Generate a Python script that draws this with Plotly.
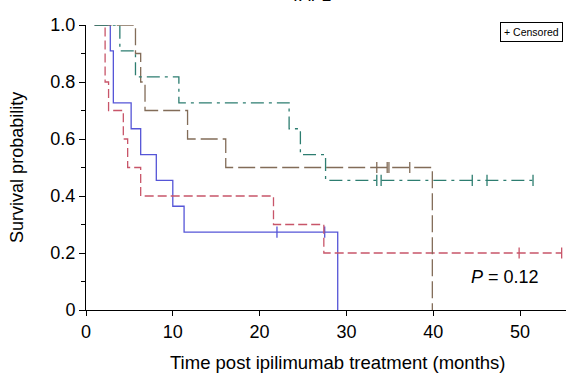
import plotly.graph_objects as go

# Kaplan-Meier step curves: time of each step (months) and survival after it
blue_t = [1.0, 2.8, 3.15, 5.2, 6.3, 8.1, 10.0, 11.3, 29.0]
blue_s = [1.0, 0.909, 0.727, 0.636, 0.545, 0.455, 0.364, 0.273, 0.0]
blue_cens_t = [22.0, 27.5]
blue_cens_s = [0.273, 0.273]

red_t = [1.0, 2.2, 2.6, 4.3, 4.8, 6.3, 21.6, 27.4, 54.8]
red_s = [1.0, 0.8, 0.7, 0.6, 0.5, 0.4, 0.3, 0.2, 0.2]
red_cens_t = [49.9, 54.8]
red_cens_s = [0.2, 0.2]

brown_t = [1.0, 5.7, 6.3, 6.8, 11.7, 16.1, 39.9]
brown_s = [1.0, 0.9, 0.8, 0.7, 0.6, 0.5, 0.0]
brown_cens_t = [33.5, 34.7, 34.9, 37.3]
brown_cens_s = [0.5, 0.5, 0.5, 0.5]

teal_t = [1.0, 3.9, 5.7, 10.7, 23.4, 24.7, 27.6, 51.5]
teal_s = [1.0, 0.909, 0.818, 0.727, 0.636, 0.545, 0.455, 0.455]
teal_cens_t = [33.5, 34.0, 44.5, 46.2, 51.5]
teal_cens_s = [0.455, 0.455, 0.455, 0.455, 0.455]

x_ticks = [0, 10, 20, 30, 40, 50]
y_ticks = [0, 0.2, 0.4, 0.6, 0.8, 1.0]
y_ticktext = ["0", "0.2", "0.4", "0.6", "0.8", "1.0"]

FONT = "Arial, Liberation Sans, sans-serif"

series = [
    (blue_t, blue_s, blue_cens_t, blue_cens_s, "rgb(85,85,215)", "solid"),
    (red_t, red_s, red_cens_t, red_cens_s, "rgb(200,85,105)", "9px,4px"),
    (brown_t, brown_s, brown_cens_t, brown_cens_s, "rgb(130,108,88)", "17px,5px"),
    (teal_t, teal_s, teal_cens_t, teal_cens_s, "rgb(45,125,112)", "13px,5px,3px,5px"),
]

fig = go.Figure()
for t, s, ct, cs, color, dash in series:
    fig.add_trace(go.Scatter(
        x=t, y=s, mode="lines", line=dict(shape="hv", color=color, width=1.3, dash=dash),
        hoverinfo="skip", showlegend=False, cliponaxis=False,
    ))
    fig.add_trace(go.Scatter(
        x=ct, y=cs, mode="markers",
        marker=dict(symbol="line-ns", size=8, line=dict(color=color, width=1.3)),
        hoverinfo="skip", showlegend=False, cliponaxis=False,
    ))

fig.update_layout(
    width=569, height=378,
    margin=dict(l=86, r=3, t=25, b=68),
    paper_bgcolor="white", plot_bgcolor="white",
    font=dict(family=FONT, size=18, color="black"),
    xaxis=dict(
        range=[0, 55.3], tickvals=x_ticks, showgrid=False, zeroline=False,
        showline=True, linecolor="black", linewidth=1,
        ticks="outside", ticklen=5, tickcolor="black", tickwidth=1,
        tickfont=dict(size=18),
    ),
    yaxis=dict(
        range=[0, 1.0], tickvals=y_ticks, ticktext=y_ticktext,
        showgrid=False, zeroline=False,
        showline=True, linecolor="black", linewidth=1,
        ticks="outside", ticklen=6, tickcolor="black", tickwidth=1,
        tickfont=dict(size=18),
        minor=dict(dtick=0.1, ticks="outside", ticklen=4, tickcolor="black", tickwidth=1),
    ),
    annotations=[
        dict(text="<i>TAP2</i>", xref="paper", yref="paper", x=0.47, y=1.062,
             xanchor="center", yanchor="bottom", showarrow=False,
             font=dict(size=17)),
        dict(text="Time post ipilimumab treatment (months)", xref="paper", yref="paper",
             x=0.524, y=-0.185, xanchor="center", yanchor="middle", showarrow=False,
             font=dict(size=18.5)),
        dict(text="Survival probability", xref="paper", yref="paper",
             x=-0.145, y=0.5, xanchor="center", yanchor="middle", showarrow=False,
             textangle=-90, font=dict(size=18)),
        dict(text="<i>P</i> = 0.12", xref="paper", yref="paper",
             x=(469 - 86) / 480, y=(310 - 277) / 285, xanchor="left", yanchor="middle",
             showarrow=False, font=dict(size=18)),
        dict(text="+ Censored", xref="paper", yref="paper",
             x=(531.5 - 86) / 480, y=(310 - 32.5) / 285, xanchor="center", yanchor="middle",
             showarrow=False, font=dict(size=10.5), bordercolor="black", borderwidth=1,
             borderpad=3, bgcolor="white"),
    ],
)

fig.write_html("out.html")
